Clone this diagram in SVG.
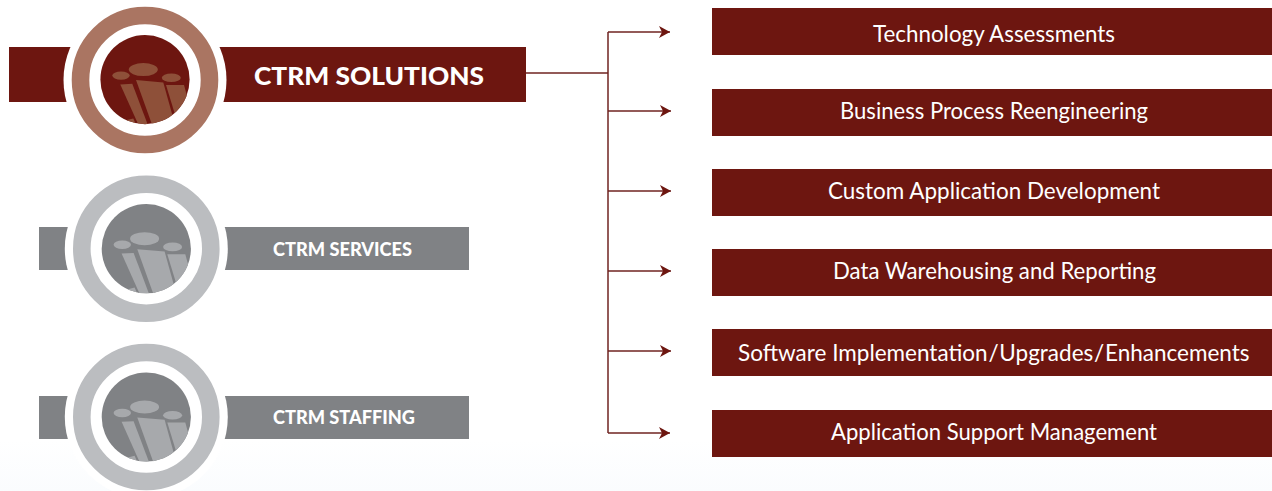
<svg xmlns="http://www.w3.org/2000/svg" width="1272" height="491" viewBox="0 0 1272 491">
<style>
.box{fill:#6d1610}
.lbl{font-family:Lato,"Open Sans","Noto Sans",sans-serif;font-size:24px;fill:#fff;text-anchor:start}
.long{font-size:22.5px}
.head{font-family:Lato,"Open Sans","Noto Sans",sans-serif;font-weight:900;fill:#fff}
.line{fill:none;stroke:#6f2320;stroke-width:1.5}
.gbar{fill:#808285}
.halo{fill:#fff}
</style>
<defs>
<linearGradient id="bg" x1="0" y1="0" x2="0" y2="1"><stop offset="0" stop-color="#fff"/><stop offset="1" stop-color="#fafcfe"/></linearGradient>
<clipPath id="disc"><circle cx="0" cy="0" r="44.6"/></clipPath>
<marker id="arr" markerUnits="userSpaceOnUse" markerWidth="12" markerHeight="14" refX="11" refY="6.5" orient="auto" viewBox="0 0 12 13"><path d="M0 0.5L11 6.5L0 12.5L3 6.5Z" fill="#6d1610"/></marker>
<g id="icon" clip-path="url(#disc)">
<ellipse cx="-1.7" cy="-10" rx="14.5" ry="6.5"/>
<ellipse cx="-24" cy="-4" rx="8.7" ry="4.2"/>
<ellipse cx="26.3" cy="-1.8" rx="9.5" ry="4.3"/>
<path d="M-24.7 4.8L-12.7 4.2L2.7 45L-6.7 45Z"/>
<path d="M-18.3 40.5L-11.7 38.8L-9 45L-20 45Z"/>
<path d="M-9 0.5L18.3 2.8L30 45L7 45Z"/>
<path d="M21 5.5L39 5.5L47 35L30 35Z"/>
</g>
</defs>
<rect x="0" y="440" width="1272" height="51" fill="url(#bg)"/>
<g id="connectors">
<path class="line" d="M526 73H608"/>
<path class="line" d="M608 32V433"/>
<path class="line" marker-end="url(#arr)" d="M608 32H670"/>
<path class="line" marker-end="url(#arr)" d="M608 111H671"/>
<path class="line" marker-end="url(#arr)" d="M608 191H671"/>
<path class="line" marker-end="url(#arr)" d="M608 271H671"/>
<path class="line" marker-end="url(#arr)" d="M608 351H671"/>
<path class="line" marker-end="url(#arr)" d="M608 433H670"/>
</g>
<g id="ctrm-solutions">
<rect class="box" x="9" y="47" width="517" height="55"/>
<circle class="halo" cx="145" cy="80" r="81.5"/>
<circle cx="145" cy="80" r="64.5" fill="none" stroke="#aa7562" stroke-width="17.6"/>
<circle class="box" cx="145" cy="79.6" r="44.6"/>
<use href="#icon" x="145" y="79.6" fill="#8e5039"/>
<text class="head" x="254" y="84.5" font-size="25" textLength="230" lengthAdjust="spacingAndGlyphs">CTRM SOLUTIONS</text>
</g>
<g id="ctrm-services">
<rect class="gbar" x="39" y="227" width="430" height="43"/>
<circle class="halo" cx="146.3" cy="248.7" r="81.5"/>
<circle cx="146.3" cy="248.7" r="64.5" fill="none" stroke="#bbbdc0" stroke-width="17.6"/>
<circle class="gbar" cx="146.3" cy="248.7" r="44.6"/>
<use href="#icon" x="146.3" y="248.7" fill="#a7a9ac"/>
<text class="head" x="273" y="256" font-size="19" textLength="139" lengthAdjust="spacingAndGlyphs">CTRM SERVICES</text>
</g>
<g id="ctrm-staffing">
<rect class="gbar" x="39" y="396" width="430" height="43"/>
<circle class="halo" cx="146.3" cy="417" r="81.5"/>
<circle cx="146.3" cy="417" r="64.5" fill="none" stroke="#bbbdc0" stroke-width="17.6"/>
<circle class="gbar" cx="146.3" cy="417" r="44.6"/>
<use href="#icon" x="146.3" y="417" fill="#a7a9ac"/>
<text class="head" x="273" y="424" font-size="19" textLength="142" lengthAdjust="spacingAndGlyphs">CTRM STAFFING</text>
</g>
<g id="technology-assessments"><rect class="box" x="712" y="8" width="560" height="47"/><text class="lbl" x="873" y="41.5" textLength="242" lengthAdjust="spacingAndGlyphs">Technology Assessments</text></g>
<g id="business-process"><rect class="box" x="712" y="89" width="560" height="47"/><text class="lbl" x="840" y="119" textLength="308" lengthAdjust="spacingAndGlyphs">Business Process Reengineering</text></g>
<g id="custom-application"><rect class="box" x="712" y="169" width="560" height="47"/><text class="lbl" x="828" y="199" textLength="332" lengthAdjust="spacingAndGlyphs">Custom Application Development</text></g>
<g id="data-warehousing"><rect class="box" x="712" y="249" width="560" height="47"/><text class="lbl" x="833" y="279" textLength="323" lengthAdjust="spacingAndGlyphs">Data Warehousing and Reporting</text></g>
<g id="software-implementation"><rect class="box" x="712" y="329" width="560" height="47"/><text class="lbl long" x="738" y="361">Software Implementation<tspan word-spacing="-5"> / Upgrades / </tspan>Enhancements</text></g>
<g id="application-support"><rect class="box" x="712" y="410" width="560" height="47"/><text class="lbl" x="831" y="439.5" textLength="326" lengthAdjust="spacingAndGlyphs">Application Support Management</text></g>
</svg>
